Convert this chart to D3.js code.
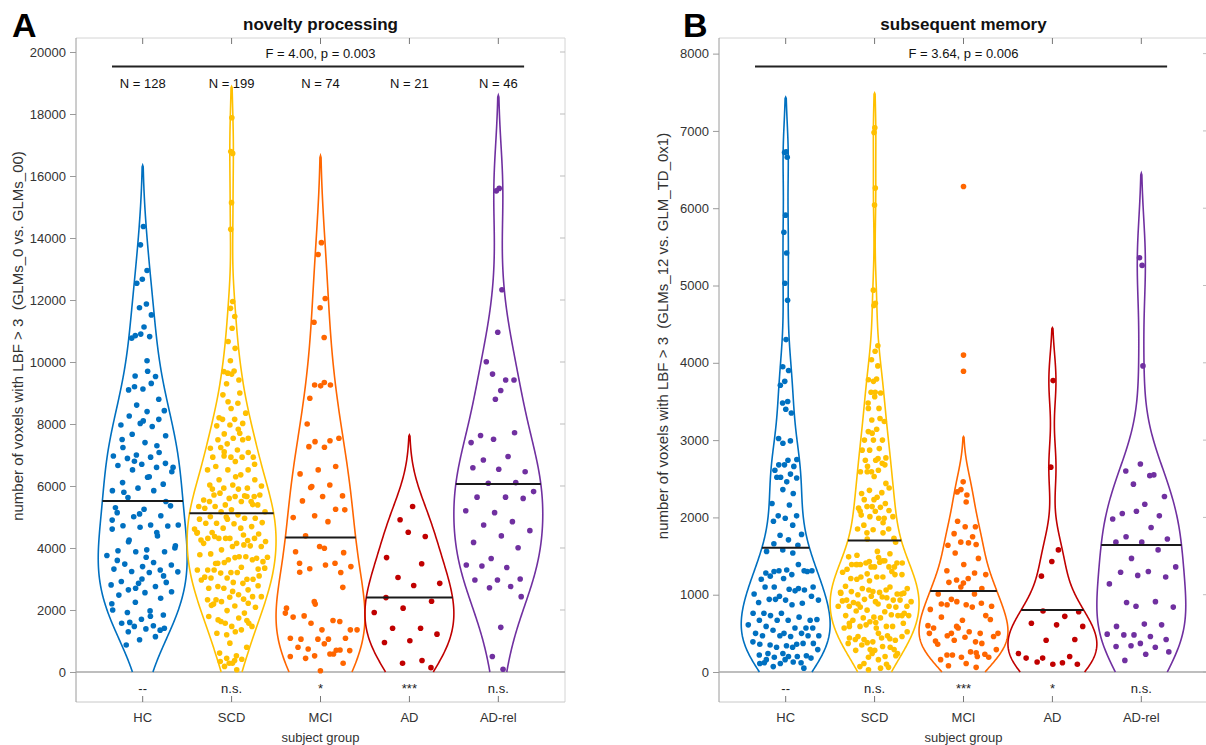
<!DOCTYPE html>
<html><head><meta charset="utf-8">
<script src="https://cdn.jsdelivr.net/npm/d3@7"></script>
<style>
body{margin:0;background:#fff}
svg{font-family:"Liberation Sans",Arial,sans-serif}
</style>
</head><body>
<svg id="chart" width="1206" height="745"></svg>
<script>
// ---------- data ----------
const groups = ["HC", "SCD", "MCI", "AD", "AD-rel"];
const groupColors = ["#0070C0", "#FFC000", "#FF6600", "#C00000", "#7030A0"];

// Panel A: novelty processing
const novHC = [14370,13780,12950,12670,12540,11870,11750,11520,11130,10850,10820,10900,10770,10040,9550,
 9530,9130,9100,9310,8610,8430,8400,8260,8150,8020,
 7970,7920,7670,7620,7400,7240,7080,7000,6970,6930,
 6890,6730,6700,6660,6600,6520,6460,6280,6110,6060,
 5930,5850,5850,5630,5360,5250,5140,5040,5010,4740,
 4740,4720,4710,4670,4610,4390,4260,4070,3940,3910,
 3880,3880,3760,3530,3480,3450,3400,3320,3290,3240,
 3230,3210,2920,2890,2860,2810,2760,2650,2590,2560,
 2480,2380,2250,2000,1970,1920,1840,1700,1570,1490,
 1470,1410,1390,1300,1140,1040,870,
 9700,9200,8800,8100,7500,7300,6800,6600,6300,5800,5500,5100,4900,4500,4200,4000,3700,3600,3100,2700,2200,1800,1600,1350,3000,5300];
const novSCD = [17880,16790,16730,15140,14280,11950,11730,11470,11090,10660,10440,10040,
 9690,9710,9640,9420,9610,8940,8670,8720,
 8350,8150,8150,8020,7970,7940,7830,7680,7540,7540,7490,7490,7360,7220,7160,7240,7080,6930,6930,6930,6970,6930,
 6790,6630,6520,6520,6520,6360,6200,6200,6030,6030,5930,5930,6000,5900,5710,5660,5600,5550,5680,5770,5710,5660,
 5500,5500,5390,5340,5500,5340,5390,5230,5280,5660,5170,5170,5070,5010,4960,4930,4930,4960,4800,4820,
 4780,4800,4690,4640,4610,4640,4500,4450,4310,4260,4240,4310,4210,4150,4310,4310,4310,4480,4420,4370,
 4050,4050,4150,4070,3940,3700,3720,3810,3670,3620,3780,3720,3510,3560,3690,3290,3620,3530,3290,3380,
 3290,3320,3210,3060,2990,3190,3350,3210,3030,2990,3030,2970,2860,2760,2780,2890,2700,2650,2700,
 2430,2490,2330,2430,2410,2330,2350,2270,2090,2130,2190,2220,1980,1790,1740,1630,1570,1470,1250,1360,1570,1470,1300,1680,1660,
 930,610,520,440,410,280,180,70,280,340,370,
 9300,9000,8500,8200,7700,7100,6700,6300,5900,5400,5000,4500,4100,3500,3100,2600,2150,1900,1200,800];
const novMCI = [13850,13470,12050,11750,11280,10790,
 5980,5230,3990,3510,3210,2270,1900,
 9340,9260,9260,9230,8830,7460,7430,7540,7250,7270,6630,6520,6390,6030,5950,5680,5660,5520,5250,5040,
 4980,4850,4390,3850,4050,3880,3510,3330,3400,3450,3220,2730,2190,2060,1660,1810,1360,1360,1770,1630,
 1570,1360,1060,1060,1090,1060,1090,580,740,690,910,800,710,520,500,580,440,280,40,
 8000,700];
const novAD = [5340,4910,4370,4510,3690,3490,3050,2860,2790,2400,2280,2060,1920,1410,1410,1220,1010,950,370,280,140];
const novADrel = [15600,15520,12330,10960,10010,9420,9610,9420,9080,7630,7720,7510,7400,6950,6840,6460,6540,6590,6110,6090,
 5820,5640,5640,5600,5140,5200,4850,4740,4560,4390,4180,4010,3660,3450,3370,3420,3000,2970,2970,2760,2720,2430,1440,500,90,8800];
const novMeans = [5518, 5121, 4336, 2401, 6066];
const novSig = ["--", "n.s.", "*", "***", "n.s."];
const novStat = "F = 4.00, p = 0.003";
const novYTicks = [0,2000,4000,6000,8000,10000,12000,14000,16000,18000,20000];

// Panel B: subsequent memory
const memHC = [6730,6720,6660,5910,5690,5420,5030,4810,4300,3950,
 3900,3760,3710,3500,3480,3350,3400,3020,2990,2960,
 2750,2740,2680,2660,2680,2610,2560,2520,2510,2460,
 2520,2310,2360,2180,2160,2020,2020,1990,1950,1900,
 1770,1780,1710,1660,1640,1580,1560,1540,1300,1300,
 1320,1280,1390,1310,1310,1260,1240,1310,1210,1200,
 1080,1100,1100,1070,1100,1060,980,1010,1050,940,
 980,930,900,890,940,930,870,760,670,760,
 760,710,730,680,670,670,570,670,610,570,
 590,570,500,500,500,540,470,460,470,470,
 470,390,360,350,370,340,360,370,320,290,
 320,240,210,240,220,200,190,180,200,160,
 120,110,110,130,70,50,160,120];
const memSCD = [7040,6980,6260,6040,4940,4770,4740,4220,4150,4040,3960,
 3760,3780,3790,3620,3610,3560,3480,3410,3260,3240,
 3140,3110,3000,3000,3000,2890,2870,2770,2740,2740,
 2700,2590,2590,2610,2660,2680,2530,2310,2320,2350,
 2380,2260,2230,2180,2140,2120,2130,2140,2090,2080,
 2030,1990,2010,2010,1990,1900,1850,1840,1850,1800,
 1800,1730,1560,1510,1530,1430,1490,1440,1390,1410,
 1360,1390,1360,1410,1410,1420,1390,1360,1360,1330,
 1440,1230,1260,1230,1210,1300,1270,1290,1230,1200,
 1010,1040,1110,1100,1080,1080,1030,1040,1010,1060,
 1030,1060,1000,1020,910,930,930,940,910,970,
 900,930,980,920,850,840,850,880,850,840,
 800,850,780,790,730,710,730,740,700,730,
 700,670,730,650,570,590,590,630,570,630,
 590,610,520,440,460,410,390,440,470,420,
 460,500,420,320,290,370,330,350,290,280,
 280,200,190,210,160,110,100,240,70,50,
 30,60,
 3620,3410,3280,3090,2870,2760,2590,2440,2230,2080,1930,1720,1680,1480,1390,1260,1180,1020,960,880,760,640,590,430,380,240];
const memMCI = [6280,4100,3890,
 2460,2330,2290,2360,1880,1880,1790,1750,1680,1640,1670,1540,1470,1390,1310,1280,1190,1260,1210,1160,
 1080,1100,1010,1010,940,850,870,880,890,910,810,840,870,680,670,570,500,500,500,520,710,730,570,500,
 390,470,460,450,360,370,410,290,260,220,230,190,160,250,220,190,110,80,60,590,
 600,2200,1950,1650,1150,400,200];
const memAD = [3770,2650,1580,1430,1240,720,790,590,610,630,420,410,240,120,130,100,100,180,200,180,780];
const memADrel = [5260,5360,3960,2690,2600,2540,2430,2270,2170,2050,2020,2080,1980,1870,1750,1720,1680,1680,1580,1470,
 1360,1300,1290,1230,1250,1140,910,900,840,620,590,610,480,490,460,480,420,370,330,320,340,260,230,150,2550,850];
const memMeans = [1609, 1700, 1048, 803, 1644];
const memSig = ["--", "n.s.", "***", "*", "n.s."];
const memStat = "F = 3.64, p = 0.006";
const memYTicks = [0,1000,2000,3000,4000,5000,6000,7000,8000];

// ---------- drawing ----------
const svg = d3.select("#chart");
const panels = [
  {letter:"A", title:"novelty processing", ylabel:"number of voxels with LBF > 3  (GLMs_0 vs. GLMs_00)",
   series:[novHC,novSCD,novMCI,novAD,novADrel], means:novMeans, sig:novSig, stat:novStat,
   ticks:novYTicks, yDomain:[-968,20452], left:76, right:565, showN:true, ylabelX:18, letterX:12},
  {letter:"B", title:"subsequent memory", ylabel:"number of voxels with LBF > 3  (GLMs_12 vs. GLM_TD_0x1)",
   series:[memHC,memSCD,memMCI,memAD,memADrel], means:memMeans, sig:memSig, stat:memStat,
   ticks:memYTicks, yDomain:[-388,8202], left:719, right:1208, showN:false, ylabelX:663, letterX:683}
];
const TOP = 38, BOTTOM = 702;
const THR = 0.012;

function violinProfile(vals){
  const n = vals.length;
  const med = d3.median(vals);
  const mad = d3.median(vals.map(v => Math.abs(v - med)));
  const bw = (mad / 0.6745) * Math.pow(4 / (3 * n), 0.2);
  const dens = t => d3.sum(vals, v => Math.exp(-0.5 * ((t - v) / bw) ** 2));
  const step = bw / 25;
  const maxV = d3.max(vals);
  const grid = [];
  for (let t = 0; t <= maxV + 6 * bw; t += step) grid.push([t, dens(t)]);
  const fmax = d3.max(grid, d => d[1]);
  const imax = d3.maxIndex(grid, d => d[1]);
  let end = grid.length - 1;
  for (let i = imax; i < grid.length; i++) { if (grid[i][1] < THR * fmax) { end = i; break; } }
  const prof = grid.slice(0, end + 1).map(([t, f]) => ({t, w: 0.5 * f / fmax}));
  prof[prof.length - 1].w = 0;
  const topT = prof[prof.length - 1].t;
  const hw = v => {
    if (v < 0 || v >= topT) return 0;
    const k = v / step, i = Math.floor(k), fr = k - i;
    return prof[i].w * (1 - fr) + prof[Math.min(i + 1, prof.length - 1)].w * fr;
  };
  return {prof, hw};
}

panels.forEach(p => {
  const x = d3.scaleLinear().domain([0.25, 5.75]).range([p.left, p.right]);
  const y = d3.scaleLinear().domain(p.yDomain).range([BOTTOM, TOP]);
  const g = svg.append("g");

  // box
  g.append("line").attr("x1", p.left).attr("x2", p.right).attr("y1", TOP).attr("y2", TOP).attr("stroke", "#d4d4d4");
  g.append("line").attr("x1", p.right).attr("x2", p.right).attr("y1", TOP).attr("y2", BOTTOM).attr("stroke", "#d4d4d4");
  g.append("line").attr("x1", p.left).attr("x2", p.right).attr("y1", BOTTOM).attr("y2", BOTTOM).attr("stroke", "#c8c8c8");
  // y axis
  const yAxis = d3.axisLeft(y).tickValues(p.ticks).tickSize(6).tickPadding(4).tickFormat(d3.format("d"));
  const ya = g.append("g").attr("transform", `translate(${p.left},0)`).call(yAxis);
  ya.select(".domain").attr("d", `M0,${TOP}V${BOTTOM}`).attr("stroke", "#9a9a9a");
  ya.selectAll(".tick line").attr("stroke", "#9a9a9a");
  ya.selectAll(".tick text").attr("fill", "#333").style("font-size", "13px").style("font-family", "'Liberation Sans',Arial,sans-serif");
  // right inner ticks
  g.selectAll(".rt").data(p.ticks).join("line").attr("x1", p.right - 5).attr("x2", p.right)
    .attr("y1", d => y(d)).attr("y2", d => y(d)).attr("stroke", "#bdbdbd");
  // top / bottom inner ticks at categories
  groups.forEach((c, i) => {
    g.append("line").attr("x1", x(i + 1)).attr("x2", x(i + 1)).attr("y1", TOP).attr("y2", TOP + 6).attr("stroke", "#777");
    g.append("line").attr("x1", x(i + 1)).attr("x2", x(i + 1)).attr("y1", BOTTOM - 6).attr("y2", BOTTOM).attr("stroke", "#777");
  });
  // zero line
  g.append("line").attr("x1", p.left).attr("x2", p.right).attr("y1", y(0)).attr("y2", y(0)).attr("stroke", "#a8a8a8").attr("stroke-width", 1.5);

  // category labels
  g.selectAll(".cat").data(groups).join("text").attr("x", (d, i) => x(i + 1)).attr("y", 722)
    .attr("text-anchor", "middle").attr("fill", "#333").style("font-size", "13px").text(d => d);
  g.append("text").attr("x", x(3)).attr("y", 742).attr("text-anchor", "middle").attr("fill", "#333")
    .style("font-size", "13px").text("subject group");
  // significance
  g.selectAll(".sig").data(p.sig).join("text").attr("x", (d, i) => x(i + 1)).attr("y", 693)
    .attr("text-anchor", "middle").attr("fill", "#222").style("font-size", "13px").text(d => d);
  // y label
  g.append("text").attr("transform", `translate(${p.ylabelX},${(TOP + BOTTOM) / 2 - 34}) rotate(-90)`)
    .attr("text-anchor", "middle").attr("dy", "0.35em").attr("fill", "#333").style("font-size", "15px")
    .style("white-space", "pre").text(p.ylabel);
  // title & letter
  g.append("text").attr("x", x(3)).attr("y", 30).attr("text-anchor", "middle").attr("fill", "#111")
    .style("font-size", "17px").style("font-weight", "bold").text(p.title);
  g.append("text").attr("x", p.letterX).attr("y", 37).attr("fill", "#000")
    .style("font-size", "34px").style("font-weight", "bold").text(p.letter);
  // stat
  g.append("text").attr("x", x(3)).attr("y", 58).attr("text-anchor", "middle").attr("fill", "#111")
    .style("font-size", "13px").text(p.stat);
  g.append("line").attr("x1", x(0.655)).attr("x2", x(5.29)).attr("y1", 66.5).attr("y2", 66.5)
    .attr("stroke", "#222").attr("stroke-width", 2);
  if (p.showN) {
    g.selectAll(".nlab").data(p.series).join("text").attr("x", (d, i) => x(i + 1)).attr("y", 88)
      .attr("text-anchor", "middle").attr("fill", "#111").style("font-size", "13px").text(d => "N = " + d.length);
  }

  // violins
  p.series.forEach((vals, gi) => {
    const col = groupColors[gi];
    const {prof, hw} = violinProfile(vals);
    const c = gi + 1;
    const pts = prof.map(d => [c - d.w, d.t]).concat(prof.slice().reverse().map(d => [c + d.w, d.t]));
    const line = d3.line().x(d => x(d[0])).y(d => y(d[1]));
    g.append("path").attr("d", line(pts)).attr("fill", "none").attr("stroke", col).attr("stroke-width", 1.6);
    g.append("g").selectAll("circle").data(vals).join("circle")
      .attr("cx", (v, i) => { const u = (((i + 1) * 0.6180339887) % 1) * 2 - 1; return x(c + u * 0.85 * hw(v)); })
      .attr("cy", v => y(v)).attr("r", 2.8).attr("fill", col);
    const m = p.means[gi];
    const mw = hw(m);
    g.append("line").attr("x1", x(c - mw)).attr("x2", x(c + mw)).attr("y1", y(m)).attr("y2", y(m))
      .attr("stroke", "#1a1a1a").attr("stroke-width", 2);
  });
});
</script>
</body></html>
